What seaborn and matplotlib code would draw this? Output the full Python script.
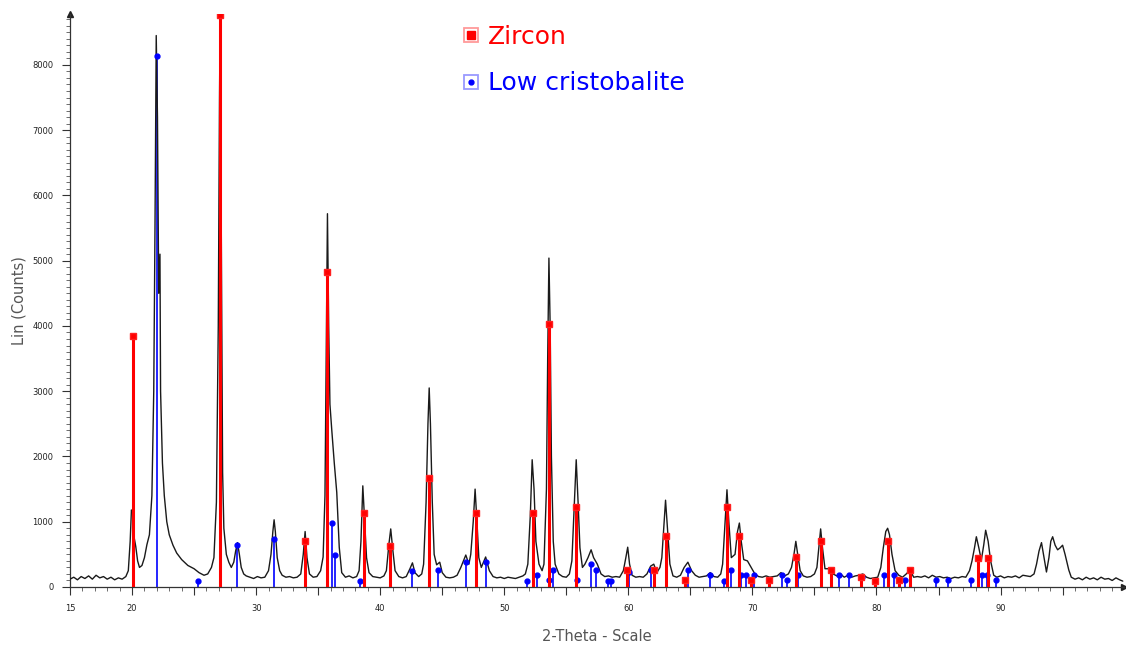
import numpy as np
import pandas as pd
import seaborn as sns
import matplotlib
matplotlib.use("Agg")
import matplotlib.pyplot as plt
from matplotlib.lines import Line2D
from matplotlib.legend_handler import HandlerTuple

# ---------------- data ----------------
profile_2theta = [
    15.0, 15.3, 15.6, 15.9, 16.2, 16.5, 16.8, 17.1, 17.4, 17.7, 18.0, 18.3, 18.6, 18.9, 19.2, 19.5,
    19.7, 19.85, 19.95, 20.05, 20.15, 20.3, 20.45, 20.6, 20.8, 21.0, 21.2, 21.4, 21.6, 21.75, 21.85,
    21.95, 22.05, 22.15, 22.25, 22.3, 22.45, 22.6, 22.8, 23.0, 23.3, 23.6, 24.0, 24.5, 25.0, 25.4,
    25.8, 26.1, 26.4, 26.6, 26.8, 26.95, 27.05, 27.1, 27.15, 27.25, 27.3, 27.4, 27.6, 27.8, 28.0,
    28.2, 28.35, 28.5, 28.65, 28.8, 29.0, 29.2, 29.5, 29.8, 30.1, 30.4, 30.7, 31.0, 31.2, 31.35,
    31.45, 31.55, 31.7, 31.9, 32.1, 32.4, 32.7, 33.0, 33.3, 33.6, 33.8, 33.95, 34.1, 34.3, 34.6,
    34.9, 35.2, 35.4, 35.55, 35.65, 35.75, 35.85, 35.95, 36.1, 36.3, 36.5, 36.7, 36.9, 37.2, 37.5,
    37.8, 38.1, 38.3, 38.45, 38.6, 38.75, 38.9, 39.1, 39.4, 39.7, 40.0, 40.3, 40.5, 40.7, 40.85,
    41.0, 41.2, 41.5, 41.8, 42.1, 42.4, 42.6, 42.8, 43.1, 43.35, 43.5, 43.7, 43.85, 43.95, 44.05,
    44.2, 44.35, 44.55, 44.8, 45.0, 45.3, 45.6, 45.9, 46.2, 46.5, 46.9, 47.15, 47.3, 47.5, 47.65,
    47.8, 47.95, 48.15, 48.5, 48.8, 49.1, 49.4, 49.7, 50.0, 50.3, 50.6, 50.9, 51.2, 51.5, 51.7,
    51.9, 52.1, 52.25, 52.4, 52.55, 52.8, 53.05, 53.2, 53.4, 53.5, 53.6, 53.7, 53.8, 53.95, 54.1,
    54.4, 54.7, 55.0, 55.25, 55.45, 55.65, 55.8, 55.95, 56.1, 56.3, 56.5, 56.75, 57.0, 57.2, 57.5,
    57.8, 58.1, 58.4, 58.7, 59.0, 59.3, 59.6, 59.8, 59.95, 60.1, 60.3, 60.6, 60.9, 61.2, 61.5,
    61.8, 62.05, 62.3, 62.55, 62.7, 62.85, 63.0, 63.15, 63.35, 63.6, 63.9, 64.2, 64.5, 64.8, 65.1,
    65.4, 65.7, 66.0, 66.3, 66.6, 66.9, 67.2, 67.45, 67.6, 67.8, 67.95, 68.1, 68.3, 68.6, 68.8,
    68.95, 69.1, 69.3, 69.6, 69.9, 70.2, 70.5, 70.8, 71.1, 71.4, 71.7, 72.0, 72.3, 72.6, 72.9,
    73.15, 73.35, 73.5, 73.65, 73.85, 74.1, 74.4, 74.7, 75.0, 75.2, 75.35, 75.5, 75.65, 75.85, 76.1,
    76.3, 76.5, 76.8, 77.1, 77.4, 77.7, 78.0, 78.3, 78.6, 78.9, 79.2, 79.5, 79.8, 80.1, 80.35,
    80.55, 80.75, 80.9, 81.05, 81.25, 81.5, 81.8, 82.1, 82.4, 82.7, 83.0, 83.3, 83.6, 83.9, 84.2,
    84.5, 84.8, 85.1, 85.4, 85.7, 86.0, 86.3, 86.6, 86.9, 87.2, 87.5, 87.7, 87.9, 88.05, 88.25,
    88.45, 88.65, 88.8, 89.0, 89.2, 89.45, 89.7, 90.0, 90.3, 90.6, 90.9, 91.2, 91.5, 91.8, 92.1,
    92.4, 92.7, 92.9, 93.1, 93.3, 93.5, 93.7, 93.9, 94.05, 94.2, 94.4, 94.6, 94.8, 95.0, 95.2,
    95.5, 95.7, 96.0, 96.3, 96.6, 96.9, 97.2, 97.5, 97.8, 98.1, 98.4, 98.7, 99.0, 99.3, 99.6,
    99.85,
]
profile_counts = [
    120, 150, 110, 160, 130, 170, 120, 180, 140, 160, 120, 150, 110, 140, 120, 160,
    250, 700, 1180, 1150, 780, 620, 400, 300, 330, 450, 650, 800, 1400, 3000, 5500,
    8450, 7200, 4500, 5100, 3000, 1900, 1400, 1000, 800, 640, 520, 420, 330, 280, 220,
    180, 200, 300, 450, 1300, 4000, 7500, 8700, 7000, 3500, 1760, 900, 500, 380, 300,
    380, 550, 680, 500, 300, 200, 170, 150, 130, 160, 140, 150, 250, 500, 850,
    1030, 850, 450, 250, 180, 150, 160, 140, 150, 200, 500, 850, 450, 200, 150,
    160, 250, 460, 1400, 3500, 5720, 4000, 2800, 2400, 1900, 1450, 610, 220, 150, 170,
    140, 160, 250, 700, 1550, 1000, 450, 220, 160, 150, 140, 170, 250, 650, 890,
    600, 250, 160, 140, 160, 280, 370, 220, 160, 200, 350, 1300, 2500, 3050, 2500,
    1300, 500, 340, 380, 220, 150, 140, 150, 180, 300, 490, 350, 500, 1000, 1500,
    1000, 450, 300, 460, 250, 160, 140, 150, 130, 150, 140, 130, 150, 170, 200,
    350, 1100, 1950, 1500, 700, 350, 250, 350, 1500, 3500, 5040, 4000, 2000, 700, 350,
    200, 160, 150, 200, 400, 1300, 1950, 1300, 600, 300, 350, 450, 570, 450, 350,
    200, 160, 170, 150, 160, 150, 250, 450, 610, 350, 180, 150, 160, 150, 200,
    320, 350, 220, 300, 450, 900, 1330, 900, 350, 170, 150, 180, 300, 380, 250,
    180, 150, 160, 170, 220, 160, 150, 200, 350, 1000, 1490, 1000, 450, 500, 850,
    980, 700, 420, 400, 300, 200, 160, 150, 170, 150, 160, 170, 220, 170, 200,
    300, 500, 700, 500, 250, 170, 150, 160, 200, 300, 600, 890, 600, 280, 280,
    260, 200, 170, 200, 150, 180, 150, 170, 180, 200, 150, 130, 140, 150, 300,
    600, 850, 900, 800, 500, 250, 180, 150, 200, 260, 150, 160, 150, 170, 140,
    180, 150, 160, 140, 150, 130, 150, 140, 160, 150, 250, 400, 600, 770, 600,
    410, 650, 870, 700, 400, 180, 150, 170, 140, 160, 150, 170, 140, 180, 170,
    160, 200, 350, 550, 680, 450, 230, 450, 700, 770, 640, 570, 600, 640, 500,
    260, 150, 120, 140, 110, 150, 120, 140, 110, 150, 120, 130, 100, 140, 110,
    90,
]

zircon_2theta = [20.05, 27.1, 33.95, 35.75, 38.7, 40.8, 43.95, 47.7, 52.3, 53.6, 55.75, 59.9,
                 62.05, 63.0, 64.55, 67.95, 68.95, 69.85, 71.3, 73.5, 75.5, 76.3, 78.75, 79.9,
                 80.9, 81.85, 82.7, 88.15, 89.0]
zircon_counts = [3850, 8760, 705, 4830, 1135, 630, 1670, 1135, 1135, 4030, 1225, 260,
                 260, 780, 100, 1225, 780, 100, 100, 460, 705, 260, 150, 90,
                 705, 110, 260, 440, 440]

cristobalite_2theta = [22.0, 25.3, 28.45, 31.45, 36.1, 36.35, 38.4, 42.6, 44.7, 46.9, 48.5, 51.8,
                       52.6, 53.6, 53.9, 55.9, 57.0, 57.4, 58.4, 58.6, 60.05, 61.8, 64.8, 66.6,
                       67.7, 68.3, 69.1, 69.5, 70.1, 72.4, 72.8, 73.7, 77.0, 77.8, 78.8, 80.6,
                       81.4, 82.3, 84.8, 85.8, 87.6, 88.5, 88.9, 89.6]
cristobalite_counts = [8130, 90, 650, 740, 980, 490, 90, 250, 260, 380, 380, 90,
                       185, 110, 260, 110, 350, 260, 90, 90, 230, 260, 260, 180,
                       90, 260, 185, 185, 185, 185, 110, 185, 185, 185, 150, 185,
                       185, 110, 110, 110, 110, 185, 185, 110]

x_tick_labels = ["15", "20", "30", "40", "50", "60", "70", "80", "90"]
y_ticks = [0, 1000, 2000, 3000, 4000, 5000, 6000, 7000, 8000]

# ---------------- plotting ----------------
sns.set_style("ticks")
plt.rcParams["font.family"] = ["DejaVu Sans"]

fig = plt.figure(figsize=(11.26, 6.47), dpi=100)
ax = fig.add_axes([70 / 1126, 60 / 647, 1054 / 1126, 573 / 647])

df = pd.DataFrame({"two_theta": profile_2theta, "counts": profile_counts})

# cristobalite sticks (below the pattern)
ax.vlines(cristobalite_2theta, 0, cristobalite_counts, color="#0000ff", lw=1.2, zorder=2)
sns.lineplot(data=df, x="two_theta", y="counts", ax=ax, color="#1a1a1a", lw=1.0,
             sort=False, estimator=None, zorder=3)
ax.plot(cristobalite_2theta, cristobalite_counts, ls="none", marker="o", ms=3.5,
        mfc="#0000ff", mec="#0000ff", zorder=4)
# zircon sticks (above the pattern)
ax.vlines(zircon_2theta, 0, zircon_counts, color="#ff0000", lw=2.2, zorder=5)
ax.plot(zircon_2theta, zircon_counts, ls="none", marker="s", ms=5,
        mfc="#ff0000", mec="#ff2020", zorder=6)

ax.set_xlim(15, 99.95)
ax.set_ylim(0, 8780)

# ticks
major_x = [15, 20, 25, 30, 35, 40, 45, 50, 55, 60, 65, 70, 75, 80, 85, 90, 95]
ax.set_xticks(major_x)
ax.set_xticklabels([t if t in x_tick_labels else "" for t in map(str, major_x)])
ax.set_xticks(np.arange(15, 100, 1), minor=True)
ax.set_yticks(y_ticks)
ax.set_yticklabels([str(v) for v in y_ticks])
ax.set_yticks(np.arange(0, 8781, 100), minor=True)
ax.tick_params(axis="both", which="major", length=6, width=0.8, color="#333333",
               labelsize=6, labelcolor="#222222", pad=6)
ax.tick_params(axis="both", which="minor", length=3, width=0.6, color="#555555")

sns.despine(ax=ax)
for s in ("left", "bottom"):
    ax.spines[s].set_linewidth(0.9)
    ax.spines[s].set_color("#333333")

# arrow heads at axis ends
ax.plot([0], [1], marker="^", ms=4, color="#222222", transform=ax.transAxes, clip_on=False)
ax.plot([1], [0], marker=">", ms=4, color="#222222", transform=ax.transAxes, clip_on=False)

ax.set_xlabel("2-Theta - Scale", fontsize=10.5, color="#555555", labelpad=12)
ax.set_ylabel("Lin (Counts)", fontsize=10.5, color="#555555", labelpad=4)

# legend
h_zircon = (Line2D([], [], ls="none", marker="s", ms=10, mfc="none", mec="#ff9a9a", mew=1.3),
            Line2D([], [], ls="none", marker="s", ms=5.5, mfc="#ff0000", mec="#ff0000"))
h_crist = (Line2D([], [], ls="none", marker="s", ms=10, mfc="none", mec="#9a9aff", mew=1.3),
           Line2D([], [], ls="none", marker="o", ms=3.5, mfc="#0000ff", mec="#0000ff"))
leg = ax.legend([h_zircon, h_crist], ["Zircon", "Low cristobalite"],
                handler_map={tuple: HandlerTuple(ndivide=1, pad=0)},
                loc="upper left", bbox_to_anchor=(452 / 1126, 1 - 12 / 647),
                bbox_transform=fig.transFigure, frameon=False, fontsize=18,
                handlelength=0.5, handletextpad=0.45, labelspacing=0.92, borderpad=0)
leg.get_texts()[0].set_color("#ff0000")
leg.get_texts()[1].set_color("#0000ff")

fig.savefig("out.png", dpi=100)
